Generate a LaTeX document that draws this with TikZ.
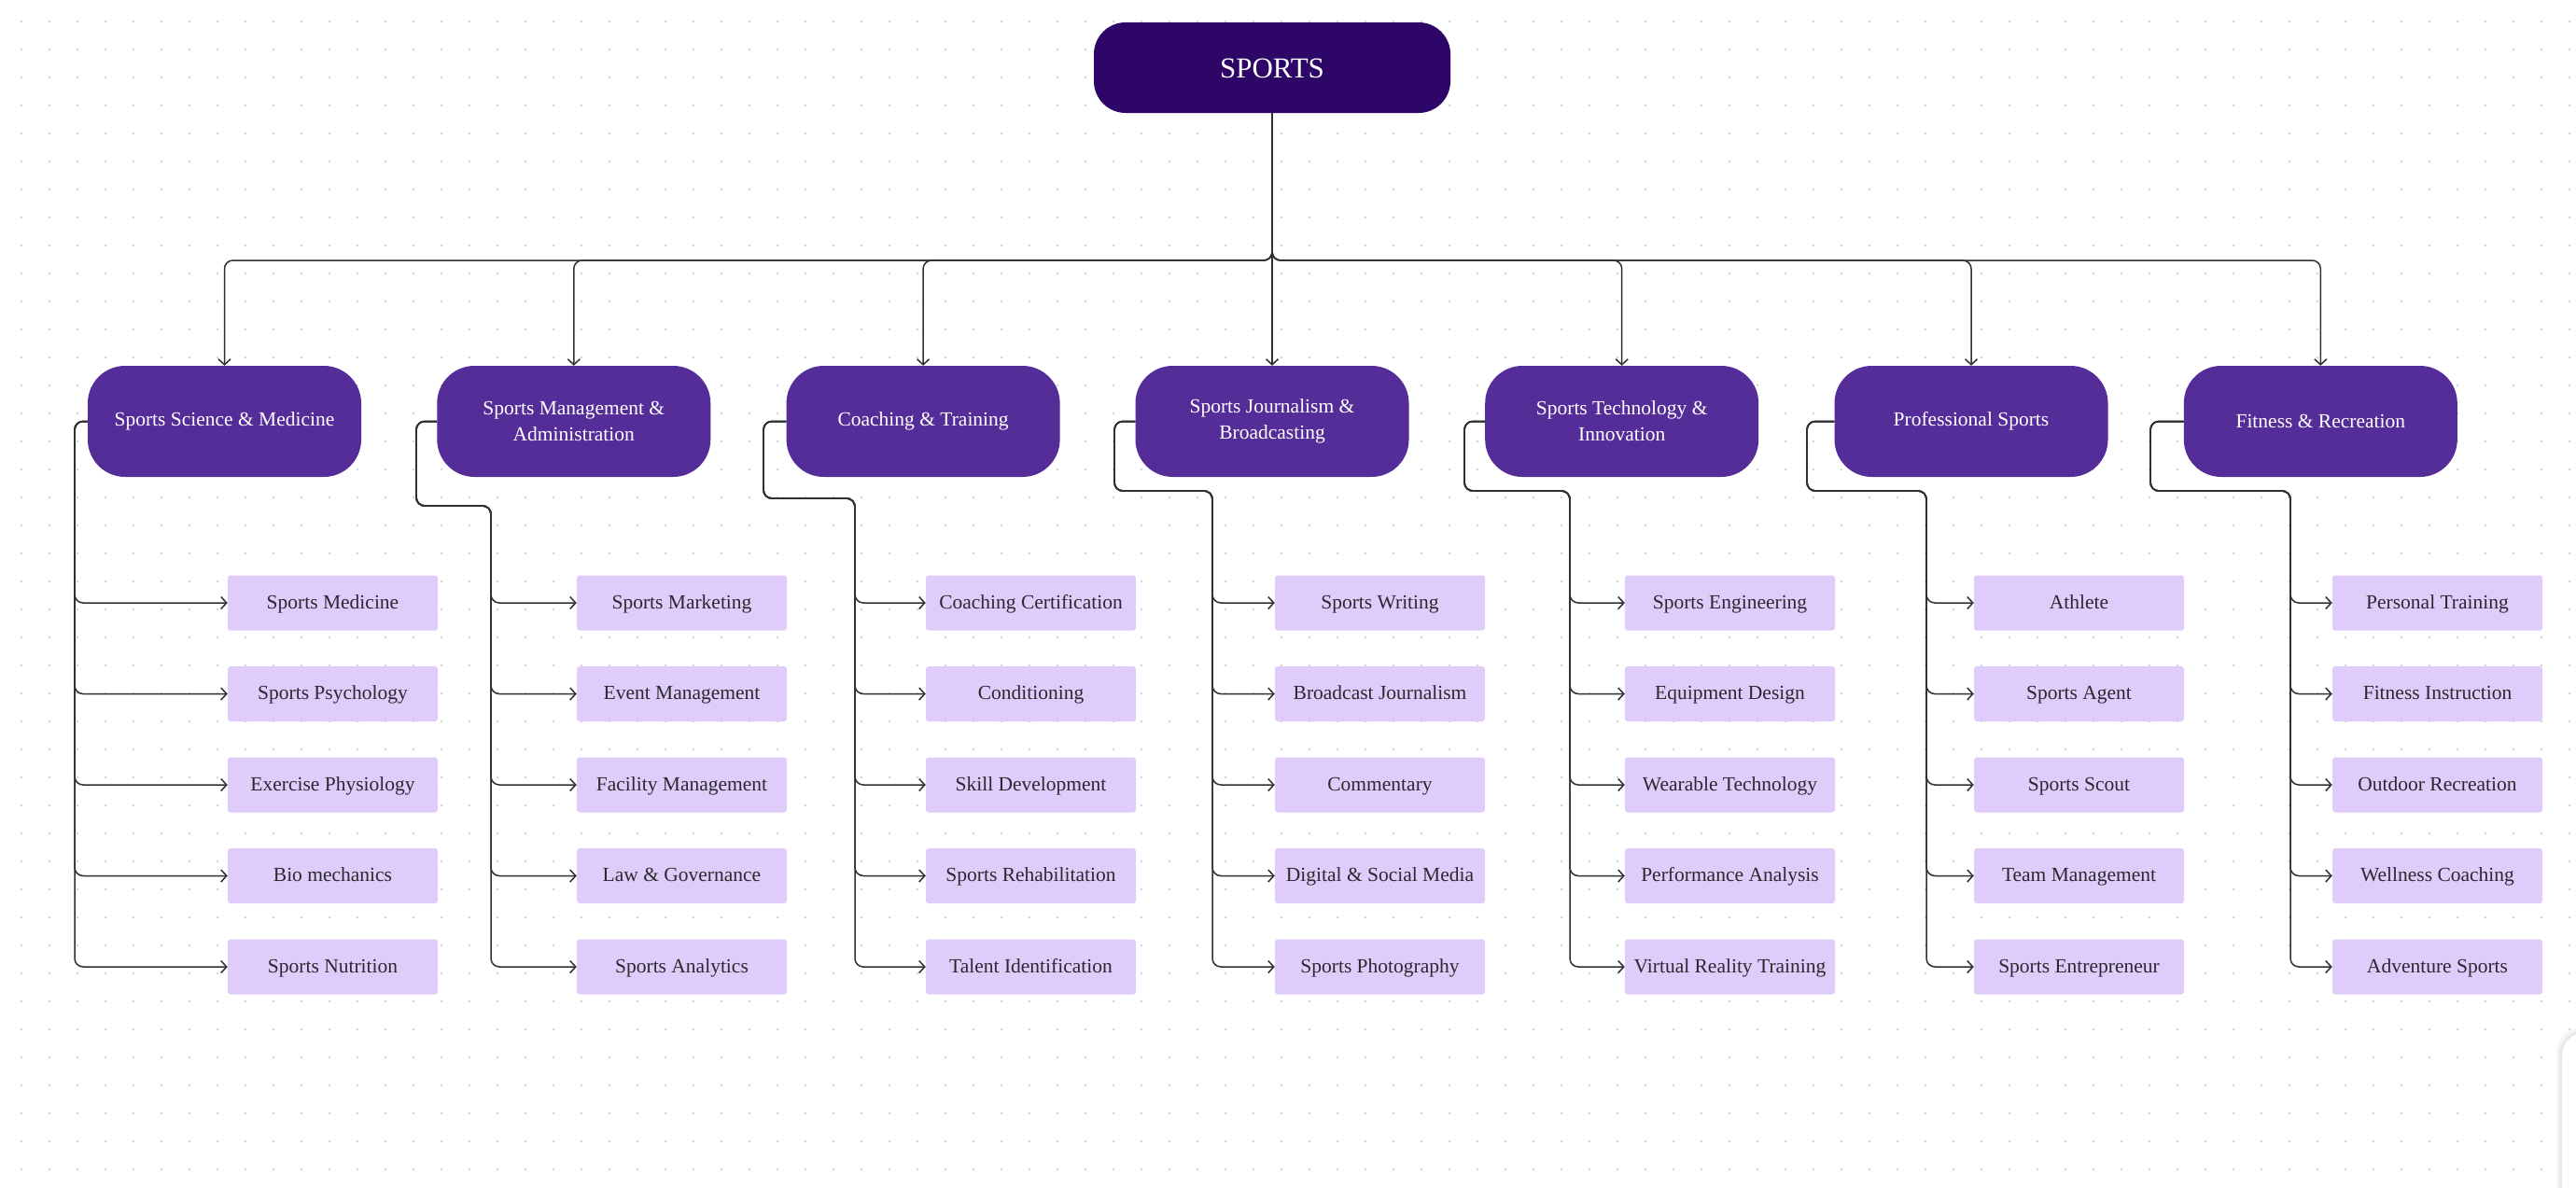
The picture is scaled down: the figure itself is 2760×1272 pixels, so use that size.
\documentclass[tikz,border=0pt]{standalone}
\usepackage{fontspec}
\setmainfont{Liberation Serif}
\usetikzlibrary{arrows.meta}
\definecolor{rootc}{HTML}{2D0668}
\definecolor{catc}{HTML}{552D99}
\definecolor{leafc}{HTML}{E0CCFA}
\definecolor{leaftext}{HTML}{2A2930}
\definecolor{linec}{HTML}{303030}
\definecolor{dotc}{HTML}{D2D2D2}
\begin{document}
\begin{tikzpicture}[x=1pt,y=-1pt,
  rootbox/.style={fill=rootc, rounded corners=34pt, minimum width=382pt, minimum height=97pt,
    text=white, font=\fontsize{31}{36}\selectfont, inner sep=0pt, text height=21pt, text depth=0pt},
  catbox/.style={fill=catc, rounded corners=40pt, minimum width=293pt, minimum height=119pt,
    text=white, font=\fontsize{21.5}{28}\selectfont, align=center, inner sep=0pt},
  leafbox/.style={fill=leafc, rounded corners=3pt, minimum width=225pt, minimum height=59pt,
    text=leaftext, font=\fontsize{21.5}{26}\selectfont, inner sep=0pt, text height=16pt, text depth=4pt},
  conn/.style={draw=linec, line width=1.5pt, rounded corners=9pt},
  arr/.style={conn, -{Straight Barb[length=6pt,width=13pt,line width=1.5pt]}},
]
\useasboundingbox (0,0) rectangle (2760,1272);
\fill[white] (0,0) rectangle (2760,1272);
% dot grid
\foreach \x in {23,53,...,2753}
  \foreach \y in {23,53,...,1253}
    \fill[dotc] (\x,\y) circle[radius=1.4pt];

% root
\node[rootbox] (root) at (1363,72.5) {SPORTS};
\coordinate (bus) at (0,279);

% categories
\node[catbox] (c1) at (240.5,451.5) {Sports Science \& Medicine};
\node[catbox] (c2) at (614.8,451.5) {Sports Management \&\\Administration};
\node[catbox] (c3) at (989.1,451.5) {Coaching \& Training};
\node[catbox] (c4) at (1363,451.5) {Sports Journalism \&\\Broadcasting};
\node[catbox] (c5) at (1737.7,451.5) {Sports Technology \&\\Innovation};
\node[catbox] (c6) at (2112,451.5) {Professional Sports};
\node[catbox] (c7) at (2486.3,451.5) {Fitness \& Recreation};

% leaves
\node[leafbox] (l1-1) at (356.5,646) {Sports Medicine};
\node[leafbox] (l1-2) at (356.5,743.5) {Sports Psychology};
\node[leafbox] (l1-3) at (356.5,841) {Exercise Physiology};
\node[leafbox] (l1-4) at (356.5,938.5) {Bio mechanics};
\node[leafbox] (l1-5) at (356.5,1036) {Sports Nutrition};

\node[leafbox] (l2-1) at (730.5,646) {Sports Marketing};
\node[leafbox] (l2-2) at (730.5,743.5) {Event Management};
\node[leafbox] (l2-3) at (730.5,841) {Facility Management};
\node[leafbox] (l2-4) at (730.5,938.5) {Law \& Governance};
\node[leafbox] (l2-5) at (730.5,1036) {Sports Analytics};

\node[leafbox] (l3-1) at (1104.5,646) {Coaching Certification};
\node[leafbox] (l3-2) at (1104.5,743.5) {Conditioning};
\node[leafbox] (l3-3) at (1104.5,841) {Skill Development};
\node[leafbox] (l3-4) at (1104.5,938.5) {Sports Rehabilitation};
\node[leafbox] (l3-5) at (1104.5,1036) {Talent Identification};

\node[leafbox] (l4-1) at (1478.5,646) {Sports Writing};
\node[leafbox] (l4-2) at (1478.5,743.5) {Broadcast Journalism};
\node[leafbox] (l4-3) at (1478.5,841) {Commentary};
\node[leafbox] (l4-4) at (1478.5,938.5) {Digital \& Social Media};
\node[leafbox] (l4-5) at (1478.5,1036) {Sports Photography};

\node[leafbox] (l5-1) at (1853.5,646) {Sports Engineering};
\node[leafbox] (l5-2) at (1853.5,743.5) {Equipment Design};
\node[leafbox] (l5-3) at (1853.5,841) {Wearable Technology};
\node[leafbox] (l5-4) at (1853.5,938.5) {Performance Analysis};
\node[leafbox] (l5-5) at (1853.5,1036) {Virtual Reality Training};

\node[leafbox] (l6-1) at (2227.5,646) {Athlete};
\node[leafbox] (l6-2) at (2227.5,743.5) {Sports Agent};
\node[leafbox] (l6-3) at (2227.5,841) {Sports Scout};
\node[leafbox] (l6-4) at (2227.5,938.5) {Team Management};
\node[leafbox] (l6-5) at (2227.5,1036) {Sports Entrepreneur};

\node[leafbox] (l7-1) at (2611.5,646) {Personal Training};
\node[leafbox] (l7-2) at (2611.5,743.5) {Fitness Instruction};
\node[leafbox] (l7-3) at (2611.5,841) {Outdoor Recreation};
\node[leafbox] (l7-4) at (2611.5,938.5) {Wellness Coaching};
\node[leafbox] (l7-5) at (2611.5,1036) {Adventure Sports};

% root to categories
\foreach \c in {c1,c2,c3,c5,c6,c7}
  \draw[arr] (root.south) -- (root.south |- bus) -| (\c.north);
\draw[arr] (root.south) -- (c4.north);

% category 1 to leaves
\coordinate (v1) at (80,0);
\foreach \k in {1,...,5}
  \draw[arr] (c1.west) -| (v1 |- l1-\k.west) -- (l1-\k.west);
% categories 2..7 to leaves
\foreach \c/\L/\J/\V in {2/446/542/526, 3/818/534/916, 4/1194/526/1299, 5/1569/526/1682, 6/1936/526/2064, 7/2304/526/2454}
{
  \coordinate (jog\c) at (\L,\J);
  \coordinate (v\c) at (\V,0);
  \foreach \k in {1,...,5}
    \draw[arr] (c\c.west) -| (jog\c) -| (v\c |- l\c-\k.west) -- (l\c-\k.west);
}

% partial panel at bottom right
\begin{scope}
\clip (0,0) rectangle (2760,1272);
\fill[black!4, rounded corners=28pt] (2739,1101) rectangle (2820,1320);
\fill[black!9, rounded corners=26pt] (2742,1104) rectangle (2820,1320);
\fill[white, rounded corners=24pt] (2745,1107) rectangle (2820,1320);
\end{scope}
\end{tikzpicture}
\end{document}
